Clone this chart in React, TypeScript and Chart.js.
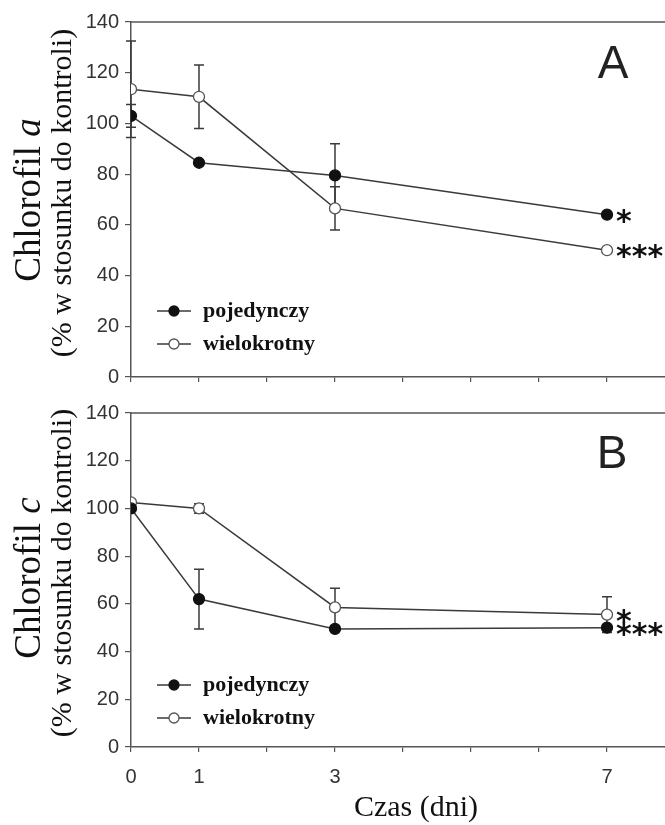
import React, { useEffect, useRef } from 'react';
import { Chart, registerables } from 'chart.js';

Chart.register(...registerables);

// ---------- data ----------
const days = [0, 1, 3, 7];
const xTickLabels = ['0', '1', '3', '7'];
const xTickMarks = [0, 1, 2, 3, 4, 5, 6, 7, 8];
const seriesNames = ['pojedynczy', 'wielokrotny'];
const yTickValues = [0, 20, 40, 60, 80, 100, 120, 140];

// Panel A – chlorofil a
const chlA_single = [103, 84.5, 79.5, 64];
const chlA_singleErr = [4.5, 0, 12.5, 0];
const chlA_multi = [113.5, 110.5, 66.5, 50];
const chlA_multiErr = [19, 12.5, 8.5, 0];
const chlA_signif = ['*', '***'];

// Panel B – chlorofil c
const chlC_single = [100, 62, 49.5, 50];
const chlC_singleErr = [0, 12.5, 0, 0];
const chlC_multi = [102.5, 100, 58.5, 55.5];
const chlC_multiErr = [0, 2, 8, 7.5];
const chlC_signif = ['***', '*'];

const yTitleLine2 = '(% w stosunku do kontroli)';
const xTitle = 'Czas (dni)';

const SERIF = '"Liberation Serif", "Times New Roman", serif';
const SANS = '"Liberation Sans", Arial, sans-serif';

const CANVAS_W = 690;

type PanelCfg = {
  letter: string;
  pigment: string;
  single: number[];
  singleErr: number[];
  multi: number[];
  multiErr: number[];
  signif: string[];
  showXLabels: boolean;
  top: number;
  height: number;
  padTop: number;
  xAxisHeight: number;
  legendRows: number[];
  titleCenterY: [number, number];
  letterPos: [number, number];
};

const panels: PanelCfg[] = [
  {
    letter: 'A',
    pigment: 'a',
    single: chlA_single,
    singleErr: chlA_singleErr,
    multi: chlA_multi,
    multiErr: chlA_multiErr,
    signif: chlA_signif,
    showXLabels: false,
    top: 0,
    height: 395,
    padTop: 22,
    xAxisHeight: 18,
    legendRows: [311, 344],
    titleCenterY: [200, 193],
    letterPos: [613, 65],
  },
  {
    letter: 'B',
    pigment: 'c',
    single: chlC_single,
    singleErr: chlC_singleErr,
    multi: chlC_multi,
    multiErr: chlC_multiErr,
    signif: chlC_signif,
    showXLabels: true,
    top: 395,
    height: 430,
    padTop: 17,
    xAxisHeight: 78,
    legendRows: [685 - 395, 718 - 395],
    titleCenterY: [578 - 395, 573 - 395],
    letterPos: [612, 60],
  },
];

const LINE = '#3a3a3a';
const AXIS = '#555555';

function Panel({ cfg }: { cfg: PanelCfg }) {
  const ref = useRef<HTMLCanvasElement | null>(null);

  useEffect(() => {
    const canvas = ref.current;
    if (!canvas) return;
    const errs = [cfg.singleErr, cfg.multiErr];
    const fills = ['#111111', '#ffffff'];
    const borders = ['#111111', '#555555'];

    const overlay = {
      id: 'overlay',
      beforeDatasetsDraw(chart: any) {
        const ctx = chart.ctx;
        const ys = chart.scales.y;
        const area = chart.chartArea;
        ctx.save();
        // top frame line
        ctx.strokeStyle = AXIS;
        ctx.lineWidth = 1.5;
        ctx.beginPath();
        ctx.moveTo(area.left, area.top);
        ctx.lineTo(chart.width, area.top);
        ctx.stroke();
        // error bars
        ctx.strokeStyle = LINE;
        ctx.lineWidth = 1.5;
        chart.data.datasets.forEach((ds: any, i: number) => {
          const meta = chart.getDatasetMeta(i);
          ds.data.forEach((p: any, j: number) => {
            const e = errs[i][j];
            if (!e) return;
            const x = meta.data[j].x;
            const y1 = ys.getPixelForValue(p.y + e);
            const y2 = ys.getPixelForValue(p.y - e);
            ctx.beginPath();
            ctx.moveTo(x, y1);
            ctx.lineTo(x, y2);
            ctx.moveTo(x - 5, y1);
            ctx.lineTo(x + 5, y1);
            ctx.moveTo(x - 5, y2);
            ctx.lineTo(x + 5, y2);
            ctx.stroke();
          });
        });
        ctx.restore();
      },
      afterDatasetsDraw(chart: any) {
        const ctx = chart.ctx;
        const area = chart.chartArea;
        ctx.save();
        // significance stars
        ctx.fillStyle = '#111';
        ctx.font = 'bold 30px "DejaVu Sans", sans-serif';
        ctx.textAlign = 'left';
        ctx.textBaseline = 'alphabetic';
        chart.data.datasets.forEach((ds: any, i: number) => {
          const meta = chart.getDatasetMeta(i);
          const last = meta.data[meta.data.length - 1];
          ctx.fillText(cfg.signif[i], last.x + 9, last.y + 16);
        });
        // legend
        seriesNames.forEach((name, i) => {
          const y = cfg.legendRows[i];
          ctx.strokeStyle = LINE;
          ctx.lineWidth = 1.5;
          ctx.beginPath();
          ctx.moveTo(157, y);
          ctx.lineTo(191, y);
          ctx.stroke();
          ctx.beginPath();
          ctx.arc(174, y, 5, 0, Math.PI * 2);
          ctx.fillStyle = fills[i];
          ctx.fill();
          ctx.strokeStyle = borders[i];
          ctx.lineWidth = 1.3;
          ctx.stroke();
          ctx.fillStyle = '#111';
          ctx.font = `bold 22px ${SERIF}`;
          ctx.textBaseline = 'middle';
          ctx.fillText(name, 203, y);
        });
        // panel letter
        ctx.fillStyle = '#222';
        ctx.font = `46px ${SANS}`;
        ctx.textAlign = 'center';
        ctx.textBaseline = 'middle';
        ctx.fillText(cfg.letter, cfg.letterPos[0], cfg.letterPos[1]);
        // y titles (rotated)
        const drawRot = (bx: number, cy: number, parts: { t: string; f: string }[]) => {
          ctx.save();
          ctx.translate(bx, cy);
          ctx.rotate(-Math.PI / 2);
          ctx.textAlign = 'left';
          ctx.textBaseline = 'alphabetic';
          ctx.fillStyle = '#111';
          let total = 0;
          parts.forEach((p) => {
            ctx.font = p.f;
            total += ctx.measureText(p.t).width;
          });
          let x = -total / 2;
          parts.forEach((p) => {
            ctx.font = p.f;
            ctx.fillText(p.t, x, 0);
            x += ctx.measureText(p.t).width;
          });
          ctx.restore();
        };
        drawRot(40, cfg.titleCenterY[0], [
          { t: 'Chlorofil ', f: `37px ${SERIF}` },
          { t: cfg.pigment, f: `italic 37px ${SERIF}` },
        ]);
        drawRot(71, cfg.titleCenterY[1], [{ t: yTitleLine2, f: `30px ${SERIF}` }]);
        // x title
        if (cfg.showXLabels) {
          ctx.fillStyle = '#111';
          ctx.font = `30px ${SERIF}`;
          ctx.textAlign = 'center';
          ctx.textBaseline = 'middle';
          ctx.fillText(xTitle, 416, area.bottom + 61);
        }
        ctx.restore();
      },
    };

    const chart = new Chart(canvas, {
      type: 'line',
      data: {
        datasets: [
          {
            label: seriesNames[0],
            data: days.map((d, i) => ({ x: d, y: cfg.single[i] })),
            borderColor: LINE,
            borderWidth: 1.5,
            pointRadius: 5.5,
            pointBackgroundColor: fills[0],
            pointBorderColor: borders[0],
            pointBorderWidth: 1.3,
            tension: 0,
          },
          {
            label: seriesNames[1],
            data: days.map((d, i) => ({ x: d, y: cfg.multi[i] })),
            borderColor: LINE,
            borderWidth: 1.5,
            pointRadius: 5.5,
            pointBackgroundColor: fills[1],
            pointBorderColor: borders[1],
            pointBorderWidth: 1.3,
            tension: 0,
          },
        ],
      },
      options: {
        responsive: false,
        animation: false,
        events: [],
        layout: { padding: { top: cfg.padTop, right: 15, left: 0, bottom: 0 } },
        plugins: { legend: { display: false }, tooltip: { enabled: false } },
        scales: {
          x: {
            type: 'linear',
            min: 0,
            max: 8,
            afterBuildTicks: (s: any) => {
              s.ticks = xTickMarks.map((v) => ({ value: v }));
            },
            ticks: {
              display: cfg.showXLabels,
              autoSkip: false,
              maxRotation: 0,
              padding: 13,
              color: '#333',
              font: { family: SANS, size: 20 },
              callback: (v: any) => {
                const i = days.indexOf(Number(v));
                return i >= 0 ? xTickLabels[i] : '';
              },
            },
            grid: { drawOnChartArea: false, drawTicks: true, tickLength: 5, color: AXIS, lineWidth: 1.2 },
            border: { color: AXIS, width: 1.5 },
            afterFit: (s: any) => {
              s.height = cfg.xAxisHeight;
            },
          },
          y: {
            min: 0,
            max: 140,
            afterBuildTicks: (s: any) => {
              s.ticks = yTickValues.map((v) => ({ value: v }));
            },
            ticks: {
              padding: 6,
              color: '#333',
              font: { family: SANS, size: 20 },
            },
            grid: { drawOnChartArea: false, drawTicks: true, tickLength: 6, color: AXIS, lineWidth: 1.2 },
            border: { color: AXIS, width: 1.5 },
            afterFit: (s: any) => {
              s.width = 131;
            },
          },
        },
      },
      plugins: [overlay],
    } as any);

    return () => chart.destroy();
  }, [cfg]);

  return (
    <canvas
      ref={ref}
      width={CANVAS_W}
      height={cfg.height}
      style={{ position: 'absolute', left: 0, top: cfg.top, width: CANVAS_W, height: cfg.height }}
    />
  );
}

export default function App() {
  return (
    <div
      style={{
        position: 'fixed',
        left: 0,
        top: 0,
        width: 665,
        height: 825,
        overflow: 'hidden',
        background: '#fff',
      }}
    >
      {panels.map((p) => (
        <Panel key={p.letter} cfg={p} />
      ))}
    </div>
  );
}
